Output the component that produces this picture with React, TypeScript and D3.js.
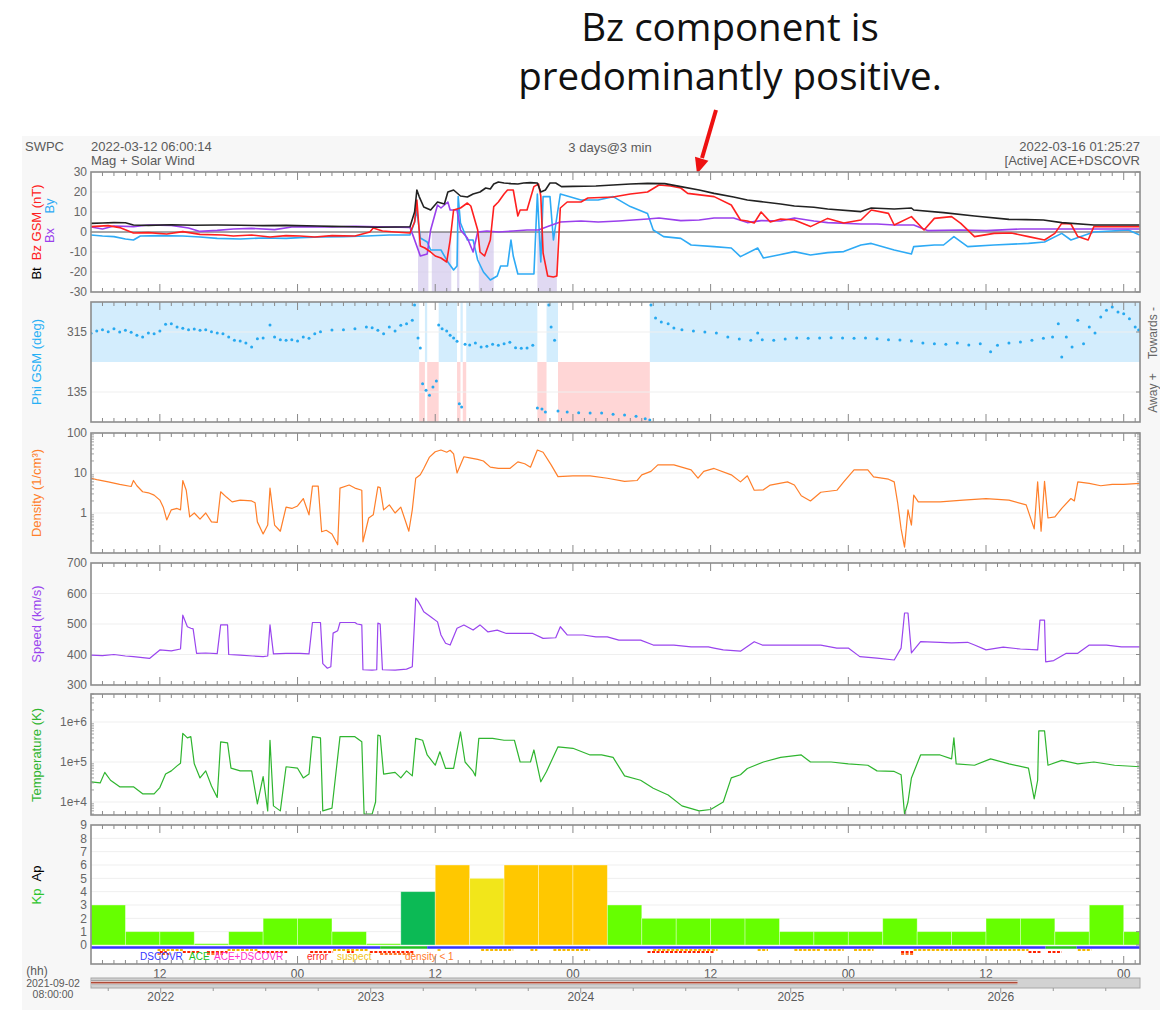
import { useEffect, useRef } from 'react'
import * as d3 from 'd3'

type Pt = [number, number]

// time axis: hours since 2022-03-12 06:00:14
const spanHours = 91.42
const hourMajor = [6, 18, 30, 42, 54, 66, 78, 90]
const hourLabels = ['12', '00', '12', '00', '12', '00', '12', '00']

const yearLabels = ['2022', '2023', '2024', '2025', '2026']
const sliderDomain = [2021.668, 2026.663]
const sliderDataEnd = 2026.08

// Bt / Bz / Bx / By (nT)
const btData: Pt[] = [[0,4.3],[1,4.5],[2,4.7],[3,4.6],[3.7,3.5],[5,3.3],[7,3.6],[9,3.4],[11,3.5],[13,3.4],[15,3.2],[17,3.3],[19.7,3.0],[21,2.8],[23,2.6],[25,2.4],[26.5,2.5],[27.8,2.6],[28.2,10],[28.4,21],[28.6,17.7],[29,12.5],[29.6,11],[30.2,15],[30.8,14],[31.1,20],[31.6,21],[32.2,18],[32.8,17.5],[33.3,19],[33.9,20],[34.4,22],[34.8,21.5],[35.1,24],[35.5,25],[36,24.5],[36.6,24.2],[37.2,24],[37.7,24.5],[38.3,24.7],[38.9,24.5],[39.2,20],[39.6,21],[40,24.5],[40.5,24.5],[41,22.7],[42,22.8],[44,23],[45.5,23.5],[47,24],[48.5,24.3],[50,24.2],[51.4,22.7],[53,21],[54.3,19.3],[56,17.5],[57.2,16],[58.4,15.2],[60.1,14],[61.3,13],[63,12.4],[64.2,11.5],[67.1,10.2],[68,12],[70,11.5],[71.5,12],[71.7,11],[74.3,9.7],[77,8],[80,6.3],[81.5,6.2],[83,6],[84.6,4.7],[87.4,3.5],[91.4,3.5]]
const bzData: Pt[] = [[0,2.7],[1.5,3.2],[2.5,2.2],[3.7,-0.5],[5,-0.3],[6.6,-1],[8,0.2],[9.5,-1.2],[11.5,-1.5],[12.4,-2],[14,-1.5],[15.6,-2.5],[17,-1.8],[18.2,-2],[19.5,-2.5],[21,-1.8],[23,-2],[24.3,0],[24.6,2],[25.4,0.5],[26.5,0],[27.8,-0.5],[28.2,5],[28.4,16],[28.7,-7],[29.1,-8],[29.6,-10],[30,-12],[30.5,-13],[31,-15],[31.3,-4],[31.6,11],[32.2,12],[32.8,14.5],[33.1,13],[33.7,1],[33.9,-10],[34.3,-12],[34.8,-4],[35.1,12.7],[35.5,15],[36,19],[36.3,21],[36.8,21],[37.2,8],[37.4,11],[38,11],[38.6,22.7],[39,24],[39.2,18],[39.4,-10.5],[39.8,-22],[40.3,-22.5],[40.6,-22],[40.9,12],[41.5,15],[42.7,15],[43.3,17],[45.5,17.5],[47,19],[48.5,20],[49.5,23.5],[50.5,23],[51.4,22],[52,19.3],[54.3,17.7],[55.8,13.5],[56.6,6],[57.2,5.5],[57.8,4.5],[58.4,10],[59.2,5],[60.1,6.5],[61.3,6],[62.7,2.7],[64.2,6.8],[65.6,4.5],[67.1,6],[68,11],[69.5,9.3],[70,3.5],[71.5,7.7],[72.6,1],[73.5,6.8],[75,7.7],[75.8,4.3],[77,-2.3],[78.7,-0.7],[80.2,-0.5],[81.7,-2.3],[83.1,-4],[84,-0.7],[84.6,4.3],[85.4,4],[86,-2.3],[86.9,-4],[87.4,2.7],[88.9,2.7],[91.4,2.7]]
const bxData: Pt[] = [[0,2.5],[1,1.5],[2,3],[3.7,2.7],[5,3.5],[7,3.3],[8.5,2],[9.5,0.3],[11,0.8],[12.4,1.5],[14,1.8],[16,1.2],[17.5,2.5],[19,2.7],[21,2.5],[23,2.8],[25,2.6],[27.8,2.3],[28.1,-2.3],[28.7,-12],[29.3,-11],[29.6,1],[30.2,13.5],[30.5,12],[31.1,15],[31.3,11],[31.9,11],[32.2,1],[32.8,-3],[33.3,-10],[33.7,0],[34.5,0.5],[35.5,0],[36.8,0.5],[38,1],[39,1],[39.8,2.7],[40.9,5],[42.7,5.5],[44.2,5],[46,5.5],[48.5,6.5],[49.5,7],[51.4,5.7],[53,6],[54.3,7],[56,7],[57.2,4.7],[58.4,5.7],[60.1,5.5],[61.3,7],[63,5.5],[64.2,4.7],[67.1,4],[68.5,4],[70,3.5],[71.7,3.5],[72.9,0.7],[75.8,1],[78,0.7],[81,1.5],[84.6,1.5],[87,1.5],[91.4,1.5]]
const byData: Pt[] = [[0,-1.5],[1,-2],[2,-2.3],[3,-3.5],[3.7,-4],[4.3,-2],[6,-1.8],[8,-2],[9.5,-2.5],[11,-3.2],[13,-3.5],[15,-3],[17,-3.2],[18.2,-2.8],[20,-2.5],[22,-2.3],[24,-2],[26,-1.5],[27.8,-1.5],[28.2,5],[28.4,11],[28.7,-3],[29.3,-5],[29.6,-9],[30.5,-9],[31.1,-15],[31.6,-19],[31.9,-17],[32.0,17.7],[32.2,4.5],[32.8,-4],[33.3,-4],[33.7,-14],[34.2,-20],[34.8,-24],[35.4,-22],[35.7,-17],[36.3,-17],[36.6,-4],[36.8,-12],[37.2,-21],[38,-21],[38.6,-21],[38.9,19],[39.2,-15],[39.4,17.7],[40,17.7],[40.3,-4],[40.9,19],[42.7,16],[44.2,16],[45.5,17.7],[47,12.7],[48.5,9.3],[49,1],[49.9,-2.3],[51.4,-3.2],[52.3,-6.5],[54.3,-7.3],[55.8,-8],[56.6,-12.3],[58.1,-8],[58.6,-13],[59.9,-11.5],[61.3,-9.8],[62.7,-11.5],[64.2,-10.3],[65.6,-9.8],[67.1,-6.5],[68,-5.7],[70,-9],[71.5,-11],[71.7,-7.3],[73.5,-6.5],[74.3,-6.5],[75.2,-2.3],[76.4,-7.3],[78.7,-6.5],[81.7,-5.7],[83.1,-5],[84.6,-0.7],[85.4,-4],[87.4,0],[90.4,1],[91.4,-1.5]]
const bzShade: Pt[] = [[28.5,29.4],[29.7,31.4],[31.9,32.1],[33.8,35.1],[38.9,40.6]]

// Phi GSM (deg) and away-sector intervals
const phiData: Pt[] = [[0,311],[0.5,318],[1,322],[1.5,316],[2,325],[2.5,315],[3,320],[3.5,314],[4,305],[4.5,300],[5,312],[5.5,310],[6,318],[6.5,338],[7,340],[7.5,330],[8,326],[8.5,322],[9,324],[9.5,320],[10,322],[10.5,316],[11,312],[11.5,310],[12,300],[12.5,290],[13,288],[13.5,282],[14,270],[14.5,295],[15,297],[15.6,336],[16,300],[16.5,292],[17,290],[17.5,292],[18,288],[18.5,300],[19,296],[19.5,310],[20,316],[21,321],[22,322],[23,325],[24,330],[24.5,328],[25,320],[25.5,310],[26,330],[26.5,318],[27,335],[27.5,340],[28,350],[28.2,396],[28.5,297],[28.7,267],[28.9,160],[29.2,140],[29.5,125],[29.8,150],[30.1,168],[30.3,336],[30.6,325],[31,318],[31.3,305],[31.6,297],[31.9,287],[32.1,100],[32.3,90],[32.6,278],[33,276],[33.5,282],[34,270],[34.5,272],[35,278],[35.5,275],[36,280],[36.5,284],[37,268],[37.5,266],[38,267],[38.5,275],[38.9,87],[39.3,84],[39.6,75],[39.9,396],[40.1,330],[40.4,290],[40.7,78],[41.5,75],[42.5,73],[43.5,72],[44.5,72],[45.5,68],[46.5,66],[47.5,62],[48.3,55],[48.7,51],[48.8,396],[49.2,357],[49.7,345],[50.3,340],[50.8,327],[51.5,322],[52.5,318],[53.5,315],[54.5,312],[55.5,300],[56.5,294],[57.5,290],[58.1,312],[58.5,292],[59.5,290],[60.5,294],[61.5,297],[62.5,296],[63.5,297],[64.5,298],[65.5,297],[66.5,296],[67.5,297],[68.5,295],[69.5,292],[70.5,291],[71.5,288],[72.5,282],[73.5,280],[74.5,278],[75.5,282],[76.5,276],[77.5,280],[78.4,256],[79,275],[80,282],[81,285],[82,290],[83,296],[83.8,300],[84.3,340],[84.6,240],[85,300],[85.5,270],[86,350],[86.5,280],[87,330],[87.5,312],[88,360],[88.5,380],[89,390],[89.5,375],[90,370],[90.5,355],[91,330],[91.3,321]]
const awaySectors: Pt[] = [[28.6,29.1],[29.3,30.3],[31.9,32.2],[32.4,32.7],[38.9,39.7],[40.7,48.7]]

// Density (1/cm3)
const densData: Pt[] = [[0,7.4],[0.5,6.8],[1.5,6.0],[2.5,5.2],[3.5,4.6],[3.7,6.5],[4,4.8],[4.5,3.4],[5,3.2],[5.5,2.8],[6,2.1],[6.3,1.4],[6.6,0.67],[7,1.2],[7.5,1.3],[7.8,1.2],[8,6.5],[8.3,3.7],[8.6,0.8],[9,1.0],[9.5,0.7],[10,1.0],[10.5,0.6],[11,0.58],[11.3,3.4],[11.8,2.5],[12.3,1.9],[13,2.1],[14,2.0],[14.3,1.8],[14.5,0.6],[15,0.3],[15.4,0.5],[15.6,4.2],[16,0.5],[16.5,0.35],[17,1.4],[17.5,1.3],[18,1.5],[18.5,2.3],[19,0.9],[19.3,4.7],[19.8,4.7],[20.1,0.34],[20.5,0.37],[21,0.3],[21.5,0.16],[21.7,4.2],[22.5,5],[23,4.2],[23.6,3.7],[23.7,0.19],[24.2,0.75],[24.6,0.9],[25,4.5],[25.2,4.3],[25.5,1.2],[26,1.6],[26.5,1.0],[27,1.4],[27.7,0.35],[28,1.2],[28.3,7.4],[28.7,9],[29,13],[29.5,25],[30,34],[30.5,37.5],[31,33],[31.3,37],[31.6,30],[31.9,10],[32.5,25.5],[33,24],[33.7,22],[34.2,20],[34.8,14],[35.5,13],[36.5,13],[37.2,19],[37.8,17],[38.3,14],[38.9,37.5],[39.4,33],[40.1,16],[40.7,8.1],[42,8.5],[43.5,8.5],[45,7.4],[46.5,6.2],[47.6,6.5],[48,9],[48.8,11],[49.4,16],[50.8,16],[52.3,12],[52.9,7.4],[53.4,11],[54.3,13],[55.8,9],[56.6,6],[57.2,8.5],[57.8,3.7],[58.6,3.8],[59.2,5],[60.7,6],[61.3,5],[61.9,2.7],[62.7,2.0],[63.6,3.3],[65,3.7],[65.6,6],[66.5,12],[67.7,12],[68.2,8],[69.5,7],[70,6],[70.3,1.8],[70.6,0.4],[70.9,0.14],[71.2,1.2],[71.5,0.5],[71.7,2.8],[72.1,1.9],[74,1.9],[76,2.1],[78,2.3],[80,2.1],[81.5,1.6],[82.2,0.4],[82.5,6],[82.8,0.35],[83.1,6.2],[83.4,0.75],[84,0.8],[84.6,1.3],[85.4,2.3],[85.7,2.0],[86,6],[87,5.5],[88,4.8],[89,5.2],[90,5.2],[91.4,5.5]]

// Speed (km/s)
const speedData: Pt[] = [[0,398],[1,396],[2,400],[3,395],[3.7,393],[5.1,387],[6,415],[7,412],[7.8,418],[8,529],[8.4,491],[8.7,486],[8.9,484],[9.2,404],[10,405],[11,403],[11.3,497],[11.9,497],[12,400],[13,398],[14.1,395],[15,393],[15.4,395],[15.6,497],[15.9,402],[17,404],[18.2,404],[19,402],[19.3,505],[20,505],[20.2,370],[20.6,355],[20.9,360],[21.1,470],[21.5,478],[21.7,505],[23,505],[23.2,500],[23.6,497],[23.7,350],[24.5,349],[24.9,350],[25,503],[25.2,500],[25.4,350],[26.5,349],[27.5,352],[28,360],[28.3,585],[28.5,575],[28.7,562],[29,540],[29.6,524],[30.2,507],[30.5,464],[30.9,437],[31.3,431],[31.9,486],[32.5,497],[33.3,480],[33.9,497],[34.6,474],[35.4,480],[36.2,469],[37.5,469],[38.5,469],[39.4,453],[40.5,455],[40.9,491],[41.5,464],[42.9,464],[44,458],[45,458],[46,447],[47.9,447],[49,431],[50.8,431],[52.3,425],[53.8,425],[54.3,421],[55.1,415],[56.6,411],[57.8,442],[58.5,431],[60.7,431],[62.5,431],[63.6,431],[65,421],[66,421],[67,393],[68.5,388],[70,382],[70.6,421],[70.9,536],[71.2,536],[71.5,405],[72.3,442],[74,440],[75,438],[76.4,440],[77,431],[78,415],[79.5,424],[81,418],[82.5,415],[82.7,513],[83.1,513],[83.2,376],[83.9,380],[85,404],[86,404],[87,431],[88.5,431],[89.8,425],[91.4,425]]

// Temperature (K)
const tempData: Pt[] = [[0,3.2e4],[0.8,3.0e4],[1.2,5.5e4],[1.7,3.5e4],[2.5,2.4e4],[3.7,2.4e4],[4.5,1.6e4],[5.5,1.6e4],[6,2.3e4],[6.5,5e4],[7,6e4],[7.5,8e4],[7.8,9.3e4],[8,5.2e5],[8.4,4e5],[8.7,4.3e5],[9,9e4],[9.5,4e4],[10,6e4],[10.5,2.5e4],[11,1.3e4],[11.3,3.2e5],[11.9,3.0e5],[12.2,7e4],[13,6e4],[14,6e4],[14.5,9e3],[15,4.3e4],[15.4,6e3],[15.6,3.5e5],[15.9,8e3],[16.5,6e3],[17,7.6e4],[18,7e4],[18.5,4e4],[19,5e4],[19.3,4.3e5],[20,4e5],[20.2,6e3],[21,7e3],[21.7,4.3e5],[23,4.3e5],[23.6,3.2e5],[23.8,5e3],[24.5,5e3],[24.8,1e4],[25,4.7e5],[25.2,4.5e5],[25.5,5e4],[26.5,5.5e4],[27,4e4],[27.5,6e4],[28,4.5e4],[28.3,3.9e5],[28.9,3.5e5],[29.3,1.5e5],[30,8.3e4],[30.4,1.8e5],[30.9,6.9e4],[31.6,6.9e4],[32.2,5.7e5],[32.6,1e5],[33.3,5.8e4],[33.5,4.5e4],[33.8,3.9e5],[35,3.9e5],[36,3.5e5],[36.9,3.5e5],[37.4,1e5],[38.3,1e5],[38.6,2e5],[39.2,3.2e4],[39.7,5.8e4],[40.7,2.4e5],[42,2.2e5],[43.5,1.5e5],[44.5,1.5e5],[45.5,1.3e5],[46.5,4.5e4],[47.9,3.5e4],[49,2.2e4],[50.3,1.5e4],[51.5,8e3],[53,6e3],[54,6.5e3],[55.1,1e4],[55.8,4e4],[56.6,4.8e4],[57.2,6.9e4],[58.6,1e5],[60.1,1.3e5],[61.9,1.5e5],[62.7,1.0e5],[64.5,1.0e5],[66,9e4],[67.7,8.3e4],[68.5,6e4],[70,5.8e4],[70.6,4.8e4],[70.9,5e3],[71.2,1e4],[71.5,4e4],[72.3,1.5e5],[74,1.5e5],[75,1.2e5],[75.2,4e5],[75.4,9e4],[77,8.3e4],[78.4,1.2e5],[80,9e4],[81.7,7e4],[82.2,1.2e4],[82.5,3.5e4],[82.6,6e5],[83.1,6e5],[83.4,8.3e4],[84.6,1.1e5],[86,9e4],[87.4,1.0e5],[89.2,8.3e4],[91.4,7.6e4]]

// 3-hourly Kp
const kpValues = [3, 1, 1, 0.1, 1, 2, 2, 1, 0.1, 4, 6, 5, 6, 6, 6, 3, 2, 2, 2, 2, 1, 1, 1, 2, 1, 1, 2, 2, 1, 3, 1]

// source + data-quality flags
const sourceSegs: [number, number, string][] = [[0, 25.2, 'DSCOVR'], [25.2, 29.3, 'ACE'], [29.3, 83.2, 'DSCOVR'], [83.2, 85.9, 'ACE'], [85.9, 91.42, 'DSCOVR']]
const suspectFlags: Pt[] = [[5.8,8],[11.9,14.5],[21.1,24.1],[30.2,30.5],[34,36.8],[38.3,38.9],[40.3,43.5],[49,54.6],[58.1,59],[61.3,63.6],[63.9,65.6],[66.5,68.2],[71.7,81.7],[86,87.2]]
const errorFlags: Pt[] = [[6,6.6],[8,9.5],[10.1,11.9],[14.5,17.1],[19.1,21.1],[22.3,22.9],[24.3,28.1],[48.5,54.3],[70.6,71.7],[81.7,82.8],[83.4,84.6]]
const densityFlags: Pt[] = [[5.8,7],[10.1,11.5],[25.2,28.1],[70.6,71.7]]

const magTicks = [30, 20, 10, 0, -10, -20, -30]
const phiTicks = [315, 135]
const densTicks = [100, 10, 1]
const speedTicks = [700, 600, 500, 400, 300]
const tempTicks = [1e6, 1e5, 1e4]
const tempLabels = ['1e+6', '1e+5', '1e+4']
const kpTicks = [0, 1, 2, 3, 4, 5, 6, 7, 8, 9]

const legendItems: [string, string, number][] = [
  ['DSCOVR', '#3434ff', 140], ['ACE', '#22c022', 189], ['ACE+DSCOVR', '#ff33cc', 214],
  ['error', '#ff2222', 307], ['suspect', '#f0c419', 337], ['density < 1', '#ff7a2a', 405],
]

const FONT = '"Liberation Sans", Arial, Helvetica, sans-serif'
const X0 = 91
const X1 = 1140
const TXT = '#5a5a5a'

export default function App() {
  const ref = useRef<SVGSVGElement | null>(null)

  useEffect(() => {
    const svg = d3.select(ref.current)
    svg.selectAll('*').remove()
    svg.attr('font-family', FONT)
    const x = d3.scaleLinear().domain([0, spanHours]).range([X0, X1])

    svg.append('rect').attr('x', 22).attr('y', 136).attr('width', 1138).attr('height', 874).attr('fill', '#f7f7f7')

    // annotation
    const title = svg.append('g').attr('font-family', '"Open Sans", "Noto Sans", sans-serif').attr('font-size', 38.5).attr('fill', '#111').attr('text-anchor', 'middle')
    title.append('text').attr('x', 730).attr('y', 41).text('Bz component is')
    title.append('text').attr('x', 730).attr('y', 90).text('predominantly positive.')
    svg.append('line').attr('x1', 716).attr('y1', 110).attr('x2', 702).attr('y2', 158).attr('stroke', '#ee1111').attr('stroke-width', 4)
    svg.append('polygon').attr('points', '697,174 708.4,160.8 695,156.7').attr('fill', '#ee1111')

    // header
    const hdr = (tx: number, ty: number, s: string, anchor = 'start') =>
      svg.append('text').attr('x', tx).attr('y', ty).attr('text-anchor', anchor).attr('font-size', 13).attr('fill', TXT).text(s)
    hdr(25, 151, 'SWPC')
    hdr(X0, 151, '2022-03-12 06:00:14')
    hdr(X0, 165, 'Mag + Solar Wind')
    hdr(610, 152, '3 days@3 min', 'middle')
    hdr(X1, 151, '2022-03-16 01:25:27', 'end')
    hdr(X1, 165, '[Active] ACE+DSCOVR', 'end')

    let clipN = 0
    const panel = (top: number, bottom: number) => {
      svg.append('rect').attr('x', X0).attr('y', top).attr('width', X1 - X0).attr('height', bottom - top).attr('fill', '#fff')
      const id = `clip${clipN++}`
      svg.append('clipPath').attr('id', id).append('rect').attr('x', X0).attr('y', top).attr('width', X1 - X0).attr('height', bottom - top)
      return svg.append('g').attr('clip-path', `url(#${id})`)
    }
    const frame = (top: number, bottom: number) => {
      const g = svg.append('g')
      d3.range(1, 92).forEach((h) => {
        const len = (h - 6) % 12 === 0 ? 8 : 4
        g.append('line').attr('x1', x(h)).attr('x2', x(h)).attr('y1', top).attr('y2', top + len).attr('stroke', '#8a8a8a').attr('stroke-width', 1)
        g.append('line').attr('x1', x(h)).attr('x2', x(h)).attr('y1', bottom).attr('y2', bottom - len).attr('stroke', '#8a8a8a').attr('stroke-width', 1)
      })
      g.append('rect').attr('x', X0).attr('y', top).attr('width', X1 - X0).attr('height', bottom - top)
        .attr('fill', 'none').attr('stroke', '#8c8c8c').attr('stroke-width', 1.6)
    }
    const yAxis = (g: any, y: any, vals: number[], labels: string[]) => {
      vals.forEach((v, i) => {
        g.append('line').attr('x1', X0).attr('x2', X1).attr('y1', y(v)).attr('y2', y(v)).attr('stroke', '#efefef').attr('stroke-width', 1)
        svg.append('text').attr('x', 87).attr('y', y(v)).attr('dy', '0.36em').attr('text-anchor', 'end')
          .attr('font-size', 12).attr('fill', '#666').text(labels[i])
        svg.append('line').attr('x1', X1 - 4).attr('x2', X1).attr('y1', y(v)).attr('y2', y(v)).attr('stroke', '#8a8a8a')
      })
    }
    const logMinor = (y: any, lo: number, hi: number) => {
      for (let e = lo; e < hi; e++) {
        for (let k = 2; k <= 9; k++) {
          const v = k * Math.pow(10, e)
          const yy = y(v)
          if (yy < y.range()[1] || yy > y.range()[0]) continue
          svg.append('line').attr('x1', X1 - 3).attr('x2', X1).attr('y1', yy).attr('y2', yy).attr('stroke', '#8a8a8a').attr('stroke-width', 0.8)
          svg.append('line').attr('x1', X0).attr('x2', X0 + 3).attr('y1', yy).attr('y2', yy).attr('stroke', '#8a8a8a').attr('stroke-width', 0.8)
        }
      }
    }
    const vlabel = (xb: number, cy: number, parts: [string, string][]) => {
      const t = svg.append('text').attr('transform', `translate(${xb},${cy}) rotate(-90)`).attr('text-anchor', 'middle').attr('font-size', 13)
      parts.forEach(([s, c], i) => t.append('tspan').attr('fill', c).attr('dx', i > 0 ? 7 : 0).text(s))
    }
    const series = (g: any, data: Pt[], y: any, color: string, w = 1.5) => {
      const line = d3.line<Pt>().x((d) => x(d[0])).y((d) => y(d[1]))
      g.append('path').datum(data).attr('d', line).attr('fill', 'none').attr('stroke', color)
        .attr('stroke-width', w).attr('stroke-linejoin', 'round')
    }

    // Panel 1: magnetic field
    const yMag = d3.scaleLinear().domain([-30, 30]).range([292, 172])
    const g1 = panel(172, 292)
    yAxis(g1, yMag, magTicks, magTicks.map(String))
    bzShade.forEach(([a, b]) => {
      g1.append('rect').attr('x', x(a)).attr('width', x(b) - x(a)).attr('y', yMag(0)).attr('height', yMag(-30) - yMag(0))
        .attr('fill', '#cbbfe9').attr('opacity', 0.6)
    })
    g1.append('line').attr('x1', X0).attr('x2', X1).attr('y1', yMag(0)).attr('y2', yMag(0)).attr('stroke', '#555').attr('stroke-width', 1)
    series(g1, byData, yMag, '#2eaaf5', 1.6)
    series(g1, bxData, yMag, '#9a40ec', 1.6)
    series(g1, bzData, yMag, '#ff2020', 1.6)
    series(g1, btData, yMag, '#222', 1.6)
    frame(172, 292)
    vlabel(41, 232, [['Bt', '#000'], ['Bz GSM (nT)', '#ff2020']])
    vlabel(54, 235.5, [['Bx', '#9a40ec']])
    vlabel(54, 206, [['By', '#2eaaf5']])

    // Panel 2: phi
    const yPhi = d3.scaleLinear().domain([45, 405]).range([422, 302])
    const g2 = panel(302, 422)
    const towards: Pt[] = []
    let cur = 0
    awaySectors.forEach(([a, b]) => { towards.push([cur, a]); cur = b })
    towards.push([cur, spanHours])
    towards.forEach(([a, b]) => g2.append('rect').attr('x', x(a)).attr('width', x(b) - x(a)).attr('y', yPhi(405)).attr('height', yPhi(225) - yPhi(405)).attr('fill', '#d3edfd'))
    awaySectors.forEach(([a, b]) => g2.append('rect').attr('x', x(a)).attr('width', x(b) - x(a)).attr('y', yPhi(225)).attr('height', yPhi(45) - yPhi(225)).attr('fill', '#ffd6d6'))
    yAxis(g2, yPhi, phiTicks, phiTicks.map(String))
    g2.selectAll(null).data(phiData).join('circle').attr('cx', (d: Pt) => x(d[0])).attr('cy', (d: Pt) => yPhi(d[1])).attr('r', 1.5).attr('fill', '#27a9f0')
    frame(302, 422)
    vlabel(41, 362, [['Phi GSM (deg)', '#27b0f5']])
    svg.append('text').attr('transform', 'translate(1157,333) rotate(-90)').attr('text-anchor', 'middle').attr('font-size', 12).attr('fill', '#666').text('Towards -')
    svg.append('text').attr('transform', 'translate(1157,393) rotate(-90)').attr('text-anchor', 'middle').attr('font-size', 12).attr('fill', '#666').text('Away +')

    // Panel 3: density
    const yDen = d3.scaleLog().domain([0.1, 100]).range([553, 433])
    const g3 = panel(433, 553)
    yAxis(g3, yDen, densTicks, densTicks.map(String))
    logMinor(yDen, -1, 2)
    series(g3, densData, yDen, '#ff7f2a', 1.2)
    frame(433, 553)
    vlabel(41, 493, [['Density (1/cm³)', '#ff7f2a']])

    // Panel 4: speed
    const ySp = d3.scaleLinear().domain([300, 700]).range([685, 563])
    const g4 = panel(563, 685)
    yAxis(g4, ySp, speedTicks, speedTicks.map(String))
    series(g4, speedData, ySp, '#9a45ee', 1.2)
    frame(563, 685)
    vlabel(41, 624, [['Speed (km/s)', '#9a45ee']])

    // Panel 5: temperature
    const yT = d3.scaleLog().domain([Math.pow(10, 3.675), Math.pow(10, 6.7)]).range([815, 694])
    const g5 = panel(694, 815)
    yAxis(g5, yT, tempTicks, tempLabels)
    logMinor(yT, 3, 7)
    series(g5, tempData, yT, '#2fb52f', 1.2)
    frame(694, 815)
    vlabel(41, 755, [['Temperature (K)', '#2fb52f']])

    // Panel 6: Kp
    const yKp = d3.scaleLinear().domain([0, 9]).range([945, 825])
    const g6 = panel(825, 964)
    yAxis(g6, yKp, kpTicks, kpTicks.map(String))
    const kpColor = (v: number) => (v >= 6 ? '#ffc800' : v >= 5 ? '#f2e61a' : v >= 4 ? '#0cba55' : '#66ff00')
    g6.selectAll(null).data(kpValues).join('rect')
      .attr('x', (_d: number, i: number) => x(i * 3))
      .attr('width', (_d: number, i: number) => x(Math.min(spanHours, i * 3 + 3)) - x(i * 3))
      .attr('y', (d: number) => yKp(d)).attr('height', (d: number) => yKp(0) - yKp(d))
      .attr('fill', (d: number) => kpColor(d)).attr('stroke', 'rgba(255,255,255,0.45)').attr('stroke-width', 0.8)
    const srcColor: Record<string, string> = { DSCOVR: '#3434ff', ACE: '#22c022', 'ACE+DSCOVR': '#ff33cc' }
    sourceSegs.forEach(([a, b, s]) => g6.append('line').attr('x1', x(a)).attr('x2', x(b)).attr('y1', 947.5).attr('y2', 947.5).attr('stroke', srcColor[s]).attr('stroke-width', 2.5))
    const flagRow = (rows: Pt[], yy: number, color: string) => rows.forEach(([a, b]) =>
      g6.append('line').attr('x1', x(a)).attr('x2', x(b)).attr('y1', yy).attr('y2', yy).attr('stroke', color).attr('stroke-width', 1.8).attr('stroke-dasharray', '3 1.5'))
    flagRow(suspectFlags, 950, '#f5b800')
    flagRow(errorFlags, 952, '#ff2200')
    flagRow(densityFlags, 954, '#ff7a2a')
    legendItems.forEach(([s, c, lx]) => svg.append('text').attr('x', lx).attr('y', 960).attr('font-size', 10).attr('fill', c).text(s))
    frame(825, 964)
    vlabel(41, 885, [['Kp', '#2ec52e'], ['Ap', '#000']])

    // hour labels
    hourMajor.forEach((h, i) => svg.append('text').attr('x', x(h)).attr('y', 978).attr('text-anchor', 'middle').attr('font-size', 12).attr('fill', TXT).text(hourLabels[i]))
    svg.append('text').attr('x', 37).attr('y', 975).attr('text-anchor', 'middle').attr('font-size', 12).attr('fill', TXT).text('(hh)')
    svg.append('text').attr('x', 53).attr('y', 987).attr('text-anchor', 'middle').attr('font-size', 10.5).attr('fill', TXT).text('2021-09-02')
    svg.append('text').attr('x', 53).attr('y', 998).attr('text-anchor', 'middle').attr('font-size', 10.5).attr('fill', TXT).text('08:00:00')

    // range slider
    const xs = d3.scaleLinear().domain(sliderDomain).range([X0, X1])
    svg.append('rect').attr('x', X0).attr('y', 978).attr('width', X1 - X0).attr('height', 10).attr('fill', '#d2d2d2').attr('stroke', '#a8a8a8').attr('stroke-width', 1)
    svg.append('rect').attr('x', X0).attr('y', 979.5).attr('width', xs(sliderDataEnd) - X0).attr('height', 6).attr('fill', '#efefef')
    svg.append('line').attr('x1', X0).attr('x2', xs(sliderDataEnd)).attr('y1', 980.3).attr('y2', 980.3).attr('stroke', '#777').attr('stroke-width', 0.8)
    svg.append('line').attr('x1', X0).attr('x2', xs(sliderDataEnd)).attr('y1', 982.6).attr('y2', 982.6).attr('stroke', '#b04a36').attr('stroke-width', 1.6)
    svg.append('line').attr('x1', X0).attr('x2', xs(sliderDataEnd)).attr('y1', 984.8).attr('y2', 984.8).attr('stroke', '#999').attr('stroke-width', 0.8)
    d3.range(2021.75, 2026.7, 0.25).forEach((q) => {
      const major = Math.abs(q - Math.round(q)) < 1e-6
      svg.append('line').attr('x1', xs(q)).attr('x2', xs(q)).attr('y1', 988).attr('y2', 988 + (major ? 5 : 3)).attr('stroke', '#999')
    })
    yearLabels.forEach((s) => svg.append('text').attr('x', xs(+s)).attr('y', 1001).attr('text-anchor', 'middle').attr('font-size', 12).attr('fill', TXT).text(s))
  }, [])

  return <svg ref={ref} width={1160} height={1014} style={{ position: 'absolute', left: 0, top: 0, background: '#fff' }} />
}
